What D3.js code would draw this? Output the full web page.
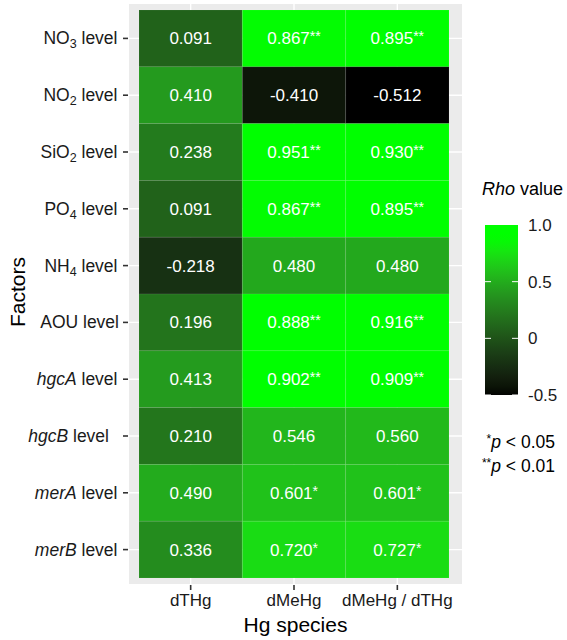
<!DOCTYPE html>
<html>
<head>
<meta charset="utf-8">
<script src="https://cdn.jsdelivr.net/npm/d3@7"></script>
<style>
  body { margin: 0; background: #fff; }
  text { font-family: "Liberation Sans", Arial, sans-serif; }
</style>
</head>
<body>
<div id="chart"></div>
<script>
// Data
const factors = ["NO3", "NO2", "SiO2", "PO4", "NH4", "AOU", "hgcA", "hgcB", "merA", "merB"]
const species = ["dTHg", "dMeHg", "dMeHg / dTHg"]
const rhoTHg   = [0.091, 0.410, 0.238, 0.091, -0.218, 0.196, 0.413, 0.210, 0.490, 0.336]
const rhoMeHg  = [0.867, -0.410, 0.951, 0.867, 0.480, 0.888, 0.902, 0.546, 0.601, 0.720]
const rhoRatio = [0.895, -0.512, 0.930, 0.895, 0.480, 0.916, 0.909, 0.560, 0.601, 0.727]
const sigMeHg  = ["**", "", "**", "**", "", "**", "**", "", "*", "*"]
const sigRatio = ["**", "", "**", "**", "", "**", "**", "", "*", "*"]
const sigTHg   = ["", "", "", "", "", "", "", "", "", ""]
const legendTicks = [1.0, 0.5, 0, -0.5]
const legendLabels = ["1.0", "0.5", "0", "-0.5"]

// y tick label parts: [main, subscript, italic?]
const factorLabels = {
    NO3: ["NO", "3", false], NO2: ["NO", "2", false], SiO2: ["SiO", "2", false],
    PO4: ["PO", "4", false], NH4: ["NH", "4", false], AOU: ["AOU", "", false],
    hgcA: ["hgcA", "", true], hgcB: ["hgcB", "", true], merA: ["merA", "", true], merB: ["merB", "", true]
}

const W = 567, H = 640
const PANEL = {LEFT:129, RIGHT:462, TOP:4, BOTTOM:584}
const TILES = {LEFT:139, RIGHT:449, TOP:10, BOTTOM:578}

// build the long table
let cells = []
const cols = [[rhoTHg, sigTHg], [rhoMeHg, sigMeHg], [rhoRatio, sigRatio]]
species.forEach((s, j) => {
    factors.forEach((f, i) => {
        cells.push({x: s, y: f, v: cols[j][0][i], sig: cols[j][1][i]})
    })
})

let svg = d3.select("#chart").append("svg")
    .attr("width", W)
    .attr("height", H)

let xScale = d3.scaleBand().domain(species).range([TILES.LEFT, TILES.RIGHT])
let yScale = d3.scaleBand().domain(factors).range([TILES.TOP, TILES.BOTTOM])

// colour: black -> mid green -> pure green
let color = d3.scaleLinear()
    .domain([-0.512, 0.39, 0.88])
    .range(["#000000", "#24961e", "#00ff00"])
    .interpolate(d3.interpolateLab)
    .clamp(true)

// panel background
svg.append("rect")
    .attr("x", PANEL.LEFT).attr("y", PANEL.TOP)
    .attr("width", PANEL.RIGHT - PANEL.LEFT).attr("height", PANEL.BOTTOM - PANEL.TOP)
    .attr("fill", "#ebebeb")

// grid lines
svg.append("g").selectAll("line").data(species).enter().append("line")
    .attr("x1", d => xScale(d) + xScale.bandwidth()/2).attr("x2", d => xScale(d) + xScale.bandwidth()/2)
    .attr("y1", PANEL.TOP).attr("y2", PANEL.BOTTOM)
    .attr("stroke", "#fff").attr("stroke-width", 1.4)
svg.append("g").selectAll("line").data(factors).enter().append("line")
    .attr("y1", d => yScale(d) + yScale.bandwidth()/2).attr("y2", d => yScale(d) + yScale.bandwidth()/2)
    .attr("x1", PANEL.LEFT).attr("x2", PANEL.RIGHT)
    .attr("stroke", "#fff").attr("stroke-width", 1.4)

// tiles
svg.append("g").selectAll("rect").data(cells).enter().append("rect")
    .attr("x", d => xScale(d.x))
    .attr("y", d => yScale(d.y))
    .attr("width", xScale.bandwidth())
    .attr("height", yScale.bandwidth())
    .attr("fill", d => color(d.v))
    .attr("stroke", "rgba(255,255,255,0.07)")
    .attr("stroke-width", 1)

// tile labels
let lab = svg.append("g").selectAll("text").data(cells).enter().append("text")
    .attr("x", d => xScale(d.x) + xScale.bandwidth()/2)
    .attr("y", d => yScale(d.y) + yScale.bandwidth()/2 + 6)
    .attr("text-anchor", "middle")
    .attr("fill", "#fff")
    .attr("font-size", 17)
lab.append("tspan").text(d => d.v.toFixed(3))
lab.append("tspan")
    .attr("font-size", 14)
    .attr("dy", -3)
    .text(d => d.sig)

// y axis
let yAxis = svg.append("g")
yAxis.selectAll("line").data(factors).enter().append("line")
    .attr("x1", PANEL.LEFT - 6).attr("x2", PANEL.LEFT - 1)
    .attr("y1", d => yScale(d) + yScale.bandwidth()/2).attr("y2", d => yScale(d) + yScale.bandwidth()/2)
    .attr("stroke", "#333").attr("stroke-width", 1.6)
let yt = yAxis.selectAll("text").data(factors).enter().append("text")
    .attr("x", d => d == "hgcB" ? 109 : (d == "AOU" ? 119 : 117.5))
    .attr("y", d => yScale(d) + yScale.bandwidth()/2 + 6)
    .attr("text-anchor", "end")
    .attr("font-size", 17.5)
    .attr("fill", "#1a1a1a")
yt.append("tspan")
    .attr("font-style", d => factorLabels[d][2] ? "italic" : "normal")
    .text(d => factorLabels[d][0])
yt.append("tspan")
    .attr("font-size", 12.5)
    .attr("dy", d => factorLabels[d][1] ? 4 : 0)
    .text(d => factorLabels[d][1])
yt.append("tspan")
    .attr("dy", d => factorLabels[d][1] ? -4 : 0)
    .text(" level")

// x axis
let xAxis = svg.append("g")
xAxis.selectAll("line").data(species).enter().append("line")
    .attr("x1", d => xScale(d) + xScale.bandwidth()/2).attr("x2", d => xScale(d) + xScale.bandwidth()/2)
    .attr("y1", PANEL.BOTTOM + 1).attr("y2", PANEL.BOTTOM + 6)
    .attr("stroke", "#333").attr("stroke-width", 1.6)
xAxis.selectAll("text").data(species).enter().append("text")
    .attr("x", d => xScale(d) + xScale.bandwidth()/2)
    .attr("y", 606)
    .attr("text-anchor", "middle")
    .attr("font-size", 17)
    .attr("fill", "#1a1a1a")
    .text(d => d)

// axis titles
svg.append("text")
    .attr("x", (PANEL.LEFT + PANEL.RIGHT)/2).attr("y", 632)
    .attr("text-anchor", "middle").attr("font-size", 21)
    .text("Hg species")
svg.append("text")
    .attr("transform", "translate(25,292) rotate(-90)")
    .attr("text-anchor", "middle").attr("font-size", 21)
    .text("Factors")

// legend
const LEG = {LEFT:485, WIDTH:33}
let legScale = d3.scaleLinear()
    .domain([-0.5, 1.0])
    .range([395, 225])

let defs = svg.append("defs")
let grad = defs.append("linearGradient").attr("id", "leggrad")
    .attr("x1", 0).attr("x2", 0).attr("y1", 1).attr("y2", 0)
let stops = d3.range(0, 21).map(i => -0.5 + i * 0.075)
grad.selectAll("stop").data(stops).enter().append("stop")
    .attr("offset", d => (d + 0.5) / 1.5)
    .attr("stop-color", d => color(d))

svg.append("text")
    .attr("x", 482).attr("y", 195)
    .attr("font-size", 18)
    .call(t => t.append("tspan").attr("font-style", "italic").text("Rho"))
    .call(t => t.append("tspan").text(" value"))

svg.append("rect")
    .attr("x", LEG.LEFT).attr("y", legScale(1.0))
    .attr("width", LEG.WIDTH).attr("height", legScale(-0.5) - legScale(1.0))
    .attr("fill", "url(#leggrad)")

let lt = svg.append("g").selectAll("g").data(legendTicks).enter().append("g")
lt.append("line")
    .attr("x1", LEG.LEFT).attr("x2", LEG.LEFT + 6)
    .attr("y1", d => legScale(d)).attr("y2", d => legScale(d))
    .attr("stroke", d => d == 1 ? "none" : "#fff").attr("stroke-width", 1)
lt.append("line")
    .attr("x1", LEG.LEFT + LEG.WIDTH - 6).attr("x2", LEG.LEFT + LEG.WIDTH)
    .attr("y1", d => legScale(d)).attr("y2", d => legScale(d))
    .attr("stroke", d => d == 1 ? "none" : "#fff").attr("stroke-width", 1)
lt.append("text")
    .attr("x", 528)
    .attr("y", d => legScale(d) + 6)
    .attr("font-size", 17)
    .attr("fill", "#1a1a1a")
    .text((d, i) => legendLabels[i])

// significance note
let note = svg.append("g")
note.append("text")
    .attr("x", 555).attr("y", 448)
    .attr("text-anchor", "end").attr("font-size", 17.5)
    .call(t => t.append("tspan").attr("font-size", 12).attr("dy", -5).text("*"))
    .call(t => t.append("tspan").attr("font-style", "italic").attr("dy", 5).text("p"))
    .call(t => t.append("tspan").text(" < 0.05"))
note.append("text")
    .attr("x", 555).attr("y", 472)
    .attr("text-anchor", "end").attr("font-size", 17.5)
    .call(t => t.append("tspan").attr("font-size", 12).attr("dy", -5).text("**"))
    .call(t => t.append("tspan").attr("font-style", "italic").attr("dy", 5).text("p"))
    .call(t => t.append("tspan").text(" < 0.01"))
</script>
</body>
</html>
